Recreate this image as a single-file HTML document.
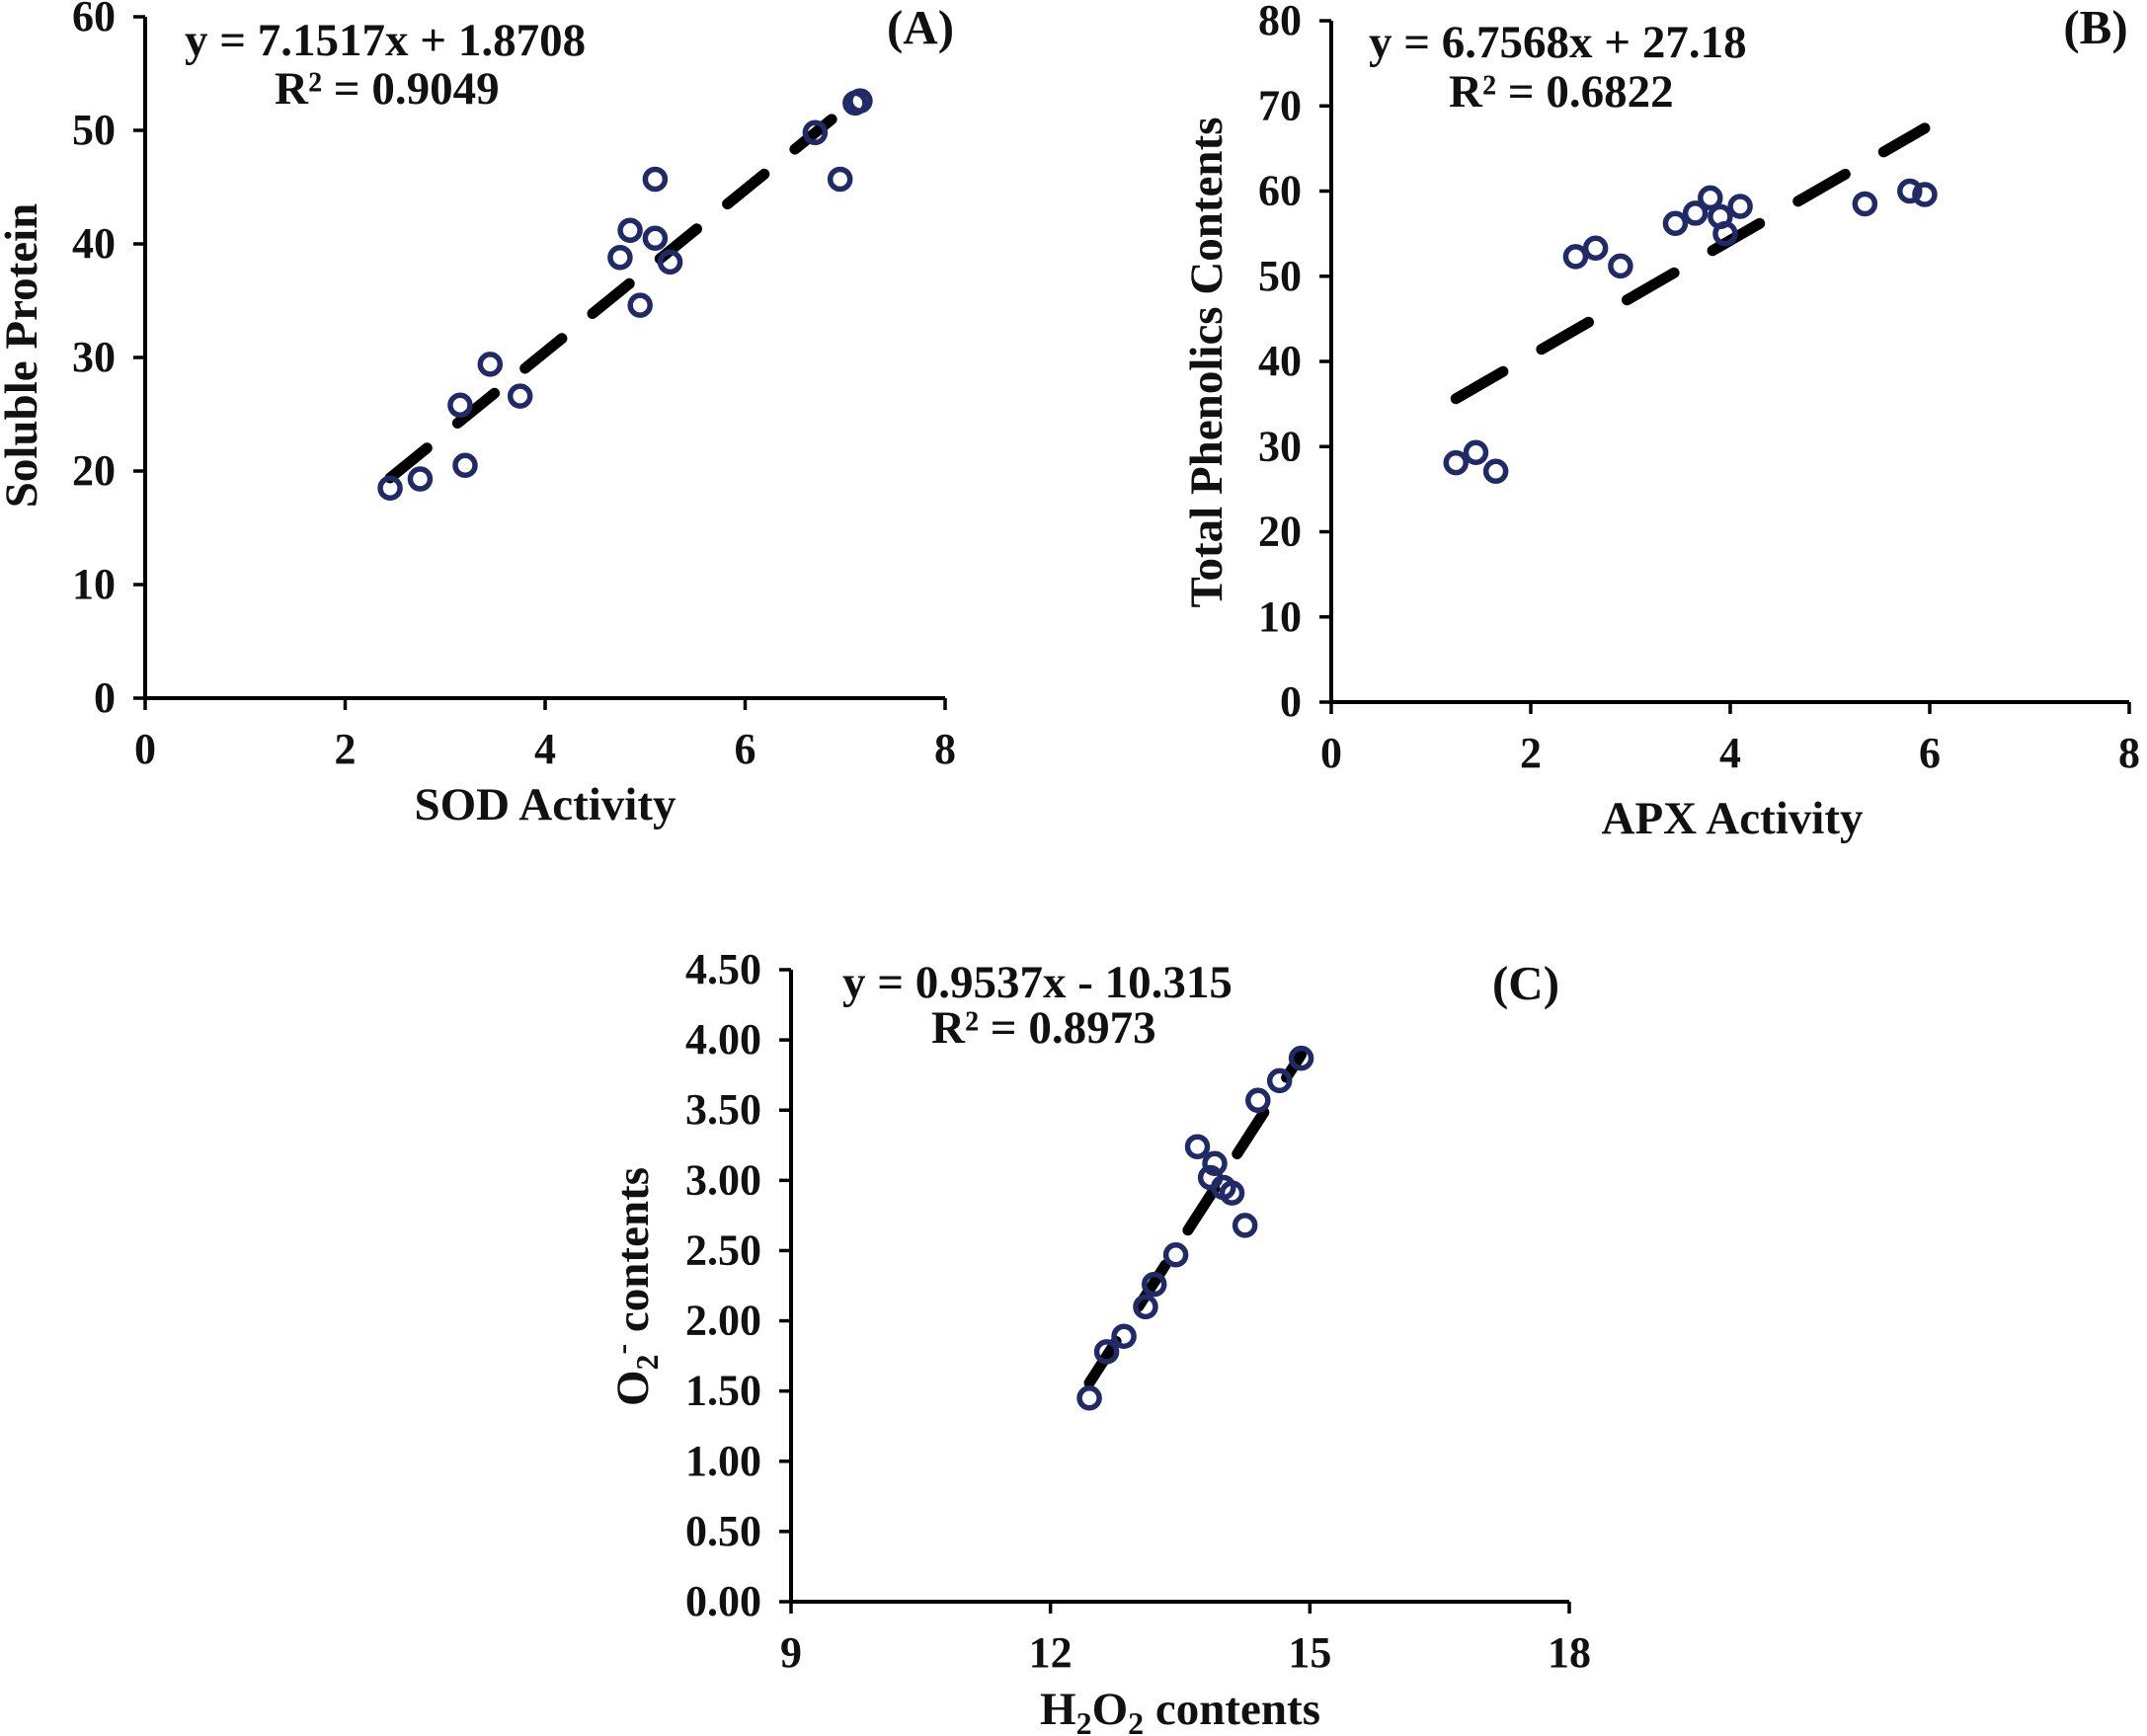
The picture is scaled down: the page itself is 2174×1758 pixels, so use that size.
<!DOCTYPE html>
<html><head><meta charset="utf-8"><style>
html,body{margin:0;padding:0;background:#fff}
svg{display:block}
text{font-family:"Liberation Serif",serif;font-weight:bold;fill:#111}
</style></head><body>
<svg id="fig" width="2174" height="1758" viewBox="0 0 2174 1758" xmlns="http://www.w3.org/2000/svg"></svg>
<script>
// Panel A data
const aX = [2.45,2.75,3.15,3.2,3.45,3.75,4.75,4.85,4.95,5.1,5.1,5.25,6.7,6.95,7.1,7.15];
const aY = [18.5,19.3,25.8,20.5,29.4,26.6,38.8,41.2,34.6,40.5,45.7,38.4,49.8,45.7,52.4,52.6];
const aSlope = 7.1517, aIntercept = 1.8708;
const aXTicks = [0,2,4,6,8];
const aYTicks = [0,10,20,30,40,50,60];
// Panel B data
const bX = [1.25,1.45,1.65,2.45,2.65,2.9,3.45,3.65,3.8,3.9,3.95,4.1,5.35,5.8,5.95];
const bY = [28.1,29.3,27.1,52.3,53.3,51.2,56.2,57.4,59.2,57,55,58.2,58.5,60,59.6];
const bSlope = 6.7568, bIntercept = 27.18;
const bXTicks = [0,2,4,6,8];
const bYTicks = [0,10,20,30,40,50,60,70,80];
// Panel C data
const cX = [12.45,12.65,12.85,13.1,13.2,13.45,13.7,13.85,13.9,14.0,14.1,14.25,14.4,14.65,14.9];
const cY = [1.45,1.78,1.89,2.1,2.26,2.47,3.24,3.02,3.12,2.95,2.91,2.68,3.57,3.71,3.87];
const cSlope = 0.9537, cIntercept = -10.315;
const cXTicks = [9,12,15,18];
const cYTicks = ["0.00","0.50","1.00","1.50","2.00","2.50","3.00","3.50","4.00","4.50"];

const NS = "http://www.w3.org/2000/svg";
const svg = document.getElementById('fig');
function mk(tag, attrs, parent){
  const e = document.createElementNS(NS, tag);
  for (const k in attrs) e.setAttribute(k, attrs[k]);
  (parent||svg).appendChild(e);
  return e;
}
function txt(s, x, y, size, anchor, parent){
  const t = mk('text', {x:x, y:y, 'font-size':size, 'text-anchor':anchor||'middle'}, parent);
  t.textContent = s;
  return t;
}
function panel(cfg){
  const g = mk('g', {});
  
  
  const xs = v => cfg.px0 + (v - cfg.xmin)/(cfg.xmax-cfg.xmin)*(cfg.px1-cfg.px0);
  const ys = v => cfg.py0 - (v - cfg.ymin)/(cfg.ymax-cfg.ymin)*(cfg.py0-cfg.py1);
  const ax = mk('line',{x1:cfg.px0,y1:cfg.py0,x2:cfg.px1,y2:cfg.py0,stroke:'#000','stroke-width':4},g);
   
  const ay = mk('line',{x1:cfg.px0,y1:cfg.py0+2,x2:cfg.px0,y2:cfg.py1,stroke:'#000','stroke-width':4},g);
   
  cfg.xTicks.forEach(v=>{
    const x = xs(+v);
    mk('line',{x1:x,y1:cfg.py0,x2:x,y2:cfg.py0+12,stroke:'#000','stroke-width':3.5},g);
    const t = txt(String(v), x, cfg.py0+66, 44, 'middle', g);
     
  });
  cfg.yTicks.forEach(v=>{
    const y = ys(+v);
    mk('line',{x1:cfg.px0-12,y1:y,x2:cfg.px0,y2:y,stroke:'#000','stroke-width':3.5},g);
    const t = txt(String(v), cfg.px0-30, y+14, 44, 'end', g);
     
  });
  const xa = Math.min(...cfg.X), xb = Math.max(...cfg.X);
  const tl = mk('line',{x1:xs(xa),y1:ys(cfg.slope*xa+cfg.intercept),x2:xs(xb),y2:ys(cfg.slope*xb+cfg.intercept),
    stroke:'#000','stroke-width':11,'stroke-dasharray':cfg.dash,'stroke-linecap':'round'},g);
   
  cfg.X.forEach((xv,i)=>{
    const c = mk('circle',{cx:xs(xv),cy:ys(cfg.Y[i]),r:10,fill:'none',stroke:'#1f2a66','stroke-width':5.5},g);
     
  });
  const eq = txt(cfg.eq, cfg.eqX, cfg.eqY, 47, 'start', g);
   
  const r2 = txt(cfg.r2, cfg.r2X, cfg.r2Y, 47, 'start', g);
   
  const pl = txt(cfg.label, cfg.lblX, cfg.lblY, 49, 'middle', g);
   
  const xt = mk('text',{x:cfg.xtX,y:cfg.xtY,'font-size':47,'text-anchor':'middle'},g);
  xt.innerHTML = cfg.xTitle;
   
  const yt = mk('text',{x:0,y:0,'font-size':47,'text-anchor':'middle',transform:`translate(${cfg.ytX},${cfg.ytY}) rotate(-90)`},g);
  yt.innerHTML = cfg.yTitle;
   
}
panel({name:'panel-a', X:aX, Y:aY, slope:aSlope, intercept:aIntercept, xTicks:aXTicks, yTicks:aYTicks,
  xmin:0,xmax:8,ymin:0,ymax:60, px0:147,px1:957,py0:707,py1:17, dash:'48 40',
  eq:'y = 7.1517x + 1.8708', eqX:187, eqY:56, r2:'R² = 0.9049', r2X:278, r2Y:105,
  label:'(A)', lblX:932, lblY:44, xTitle:'SOD Activity', xtX:552, xtY:830,
  yTitle:'Soluble  Protein', ytX:37, ytY:360});
panel({name:'panel-b', X:bX, Y:bY, slope:bSlope, intercept:bIntercept, xTicks:bXTicks, yTicks:bYTicks,
  xmin:0,xmax:8,ymin:0,ymax:80, px0:1348,px1:2156,py0:711,py1:21, dash:'55 45',
  eq:'y = 6.7568x + 27.18', eqX:1386, eqY:58, r2:'R² = 0.6822', r2X:1467, r2Y:108,
  label:'(B)', lblX:2122, lblY:44, xTitle:'APX Activity', xtX:1754, xtY:844,
  yTitle:'Total Phenolics  Contents', ytX:1237, ytY:367});
panel({name:'panel-c', X:cX, Y:cY, slope:cSlope, intercept:cIntercept, xTicks:cXTicks, yTicks:cYTicks,
  xmin:9,xmax:18,ymin:0,ymax:4.5, px0:801,px1:1589,py0:1622,py1:982, dash:'50 42',
  eq:'y = 0.9537x - 10.315', eqX:853, eqY:1010, r2:'R² = 0.8973', r2X:943, r2Y:1056,
  label:'(C)', lblX:1545, lblY:1012, xTitle:'H<tspan font-size="32" dy="10">2</tspan><tspan dy="-10">O</tspan><tspan font-size="32" dy="10">2</tspan><tspan dy="-10"> contents</tspan>', xtX:1195, xtY:1746,
  yTitle:'O<tspan font-size="32" dy="10">2</tspan><tspan font-size="32" dy="-26">-</tspan><tspan dy="16"> contents</tspan>', ytX:656, ytY:1303});
</script>
</body></html>
